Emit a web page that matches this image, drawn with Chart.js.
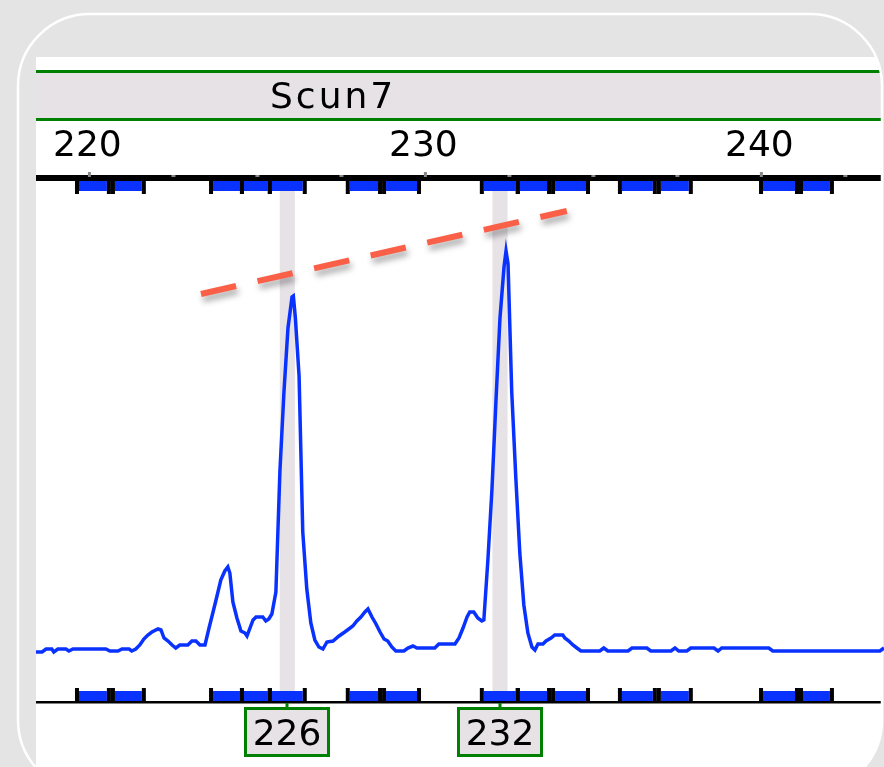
<!DOCTYPE html>
<html>
<head>
<meta charset="utf-8">
<script src="https://cdn.jsdelivr.net/npm/chart.js@4.4.1/dist/chart.umd.min.js"></script>
<style>
  html, body { margin: 0; padding: 0; background: #e4e4e4; overflow: hidden; }
  canvas { display: block; }
</style>
</head>
<body>
<canvas id="myChart" width="884" height="767"></canvas>
<script>
// Dados do gráfico
const markerName = 'Scun7';
const sizeTicks = [220, 230, 240];
const minorTicks = [222.5, 225, 227.5, 232.5, 235, 237.5, 242.5];

// bins (inicio / fim em pb)
const binStarts = [219.63, 220.70, 223.62, 224.54, 225.37, 227.69, 228.77, 231.68, 232.75, 233.80, 235.79, 236.95, 239.99, 241.18];
const binEnds   = [220.58, 221.62, 224.54, 225.37, 226.41, 228.65, 229.81, 232.75, 233.68, 234.84, 236.83, 237.90, 241.06, 242.10];

// alelos chamados
const alleleLabels = ['226', '232'];
const alleleSizes = [225.89, 232.22];

// traço (tamanho em pb, intensidade)
const traceSizes = [
  218.41, 218.59, 218.71, 218.88, 218.94, 219.06, 219.30, 219.39, 219.51, 220.49,
  220.61, 220.85, 220.97, 221.18, 221.26, 221.38, 221.50, 221.62, 221.74, 221.86,
  222.04, 222.13, 222.22, 222.34, 222.46, 222.57, 222.69, 222.93, 223.05, 223.17,
  223.29, 223.44, 223.56, 223.68, 223.79, 223.91, 224.03, 224.12, 224.18, 224.27,
  224.39, 224.51, 224.63, 224.69, 224.78, 224.87, 224.96, 225.16, 225.25, 225.34,
  225.43, 225.55, 225.67, 225.79, 225.91, 226.03, 226.07, 226.13, 226.24, 226.35,
  226.47, 226.59, 226.71, 226.83, 226.95, 227.07, 227.25, 227.43, 227.60, 227.72,
  227.84, 227.96, 228.08, 228.20, 228.29, 228.41, 228.53, 228.65, 228.77, 228.88,
  229.00, 229.12, 229.36, 229.48, 229.63, 229.75, 230.28, 230.40, 230.88, 231.00,
  231.12, 231.24, 231.32, 231.44, 231.56, 231.68, 231.74, 231.86, 231.98, 232.10,
  232.22, 232.34, 232.40, 232.46, 232.57, 232.69, 232.81, 232.93, 233.05, 233.17,
  233.26, 233.35, 233.50, 233.59, 233.74, 233.85, 234.09, 234.15, 234.27, 234.39,
  234.51, 234.63, 235.19, 235.31, 235.43, 236.03, 236.15, 236.59, 236.71, 237.31,
  237.43, 237.54, 237.78, 237.90, 238.59, 238.71, 238.82, 240.22, 240.34, 243.53,
  243.65
];
const traceRfu = [
  144, 144, 156, 156, 144, 156, 156, 148, 156, 156,
  148, 148, 156, 156, 148, 156, 172, 196, 212, 224,
  236, 232, 200, 188, 172, 160, 172, 172, 188, 188,
  172, 172, 240, 304, 364, 432, 468, 484, 460, 344,
  280, 228, 220, 208, 240, 272, 284, 284, 268, 276,
  296, 384, 868, 1184, 1440, 1564, 1568, 1480, 1248, 624,
  396, 260, 192, 164, 156, 184, 188, 208, 224, 236,
  248, 268, 284, 304, 316, 284, 256, 224, 196, 188,
  164, 148, 148, 160, 168, 160, 160, 176, 176, 200,
  240, 284, 304, 304, 280, 268, 272, 512, 792, 1148,
  1480, 1684, 1748, 1696, 1184, 844, 540, 332, 220, 164,
  152, 176, 176, 188, 200, 212, 212, 200, 188, 172,
  160, 148, 148, 160, 148, 148, 160, 160, 148, 148,
  160, 148, 148, 160, 160, 148, 160, 160, 148, 148,
  160
];

// linha tracejada (inclinação)
const slopeSizes = [223.32, 234.21];
const slopeRfu = [1576, 1908];

const traceData = traceSizes.map((s, i) => ({ x: s, y: traceRfu[i] }));
const slopeData = slopeSizes.map((s, i) => ({ x: s, y: slopeRfu[i] }));

function roundRect(c, x, y, w, h, r) {
  c.beginPath();
  c.moveTo(x + r, y);
  c.lineTo(x + w - r, y);
  c.arcTo(x + w, y, x + w, y + r, r);
  c.lineTo(x + w, y + h - r);
  c.arcTo(x + w, y + h, x + w - r, y + h, r);
  c.lineTo(x + r, y + h);
  c.arcTo(x, y + h, x, y + h - r, r);
  c.lineTo(x, y + r);
  c.arcTo(x, y, x + r, y, r);
  c.closePath();
}

function drawBins(c, xs, yBlue, hBlue, yMark, hMark) {
  for (let i = 0; i < binStarts.length; i++) {
    const a = xs.getPixelForValue(binStarts[i]);
    const b = xs.getPixelForValue(binEnds[i]);
    c.fillStyle = '#0a32ff';
    c.fillRect(a + 2, yBlue, b - a - 4, hBlue);
    c.fillStyle = '#000';
    c.fillRect(a - 2, yMark, 4, hMark);
    c.fillRect(b - 2, yMark, 4, hMark);
  }
}

// fundo, cabeçalho, eixos e bins
const decor = {
  id: 'decor',
  beforeDraw(chart) {
    const c = chart.ctx;
    const xs = chart.scales.x;
    const W = chart.width, H = chart.height;
    const left = chart.chartArea.left;
    c.save();
    c.fillStyle = '#e4e4e4';
    c.fillRect(0, 0, W, H);

    c.save();
    roundRect(c, 18, 14, 864, 778, 72);
    c.clip();
    c.fillStyle = '#fff';
    c.fillRect(left, 57, W - left, H - 57);

    c.fillStyle = '#008000';
    c.fillRect(left, 70, W - left, 3);
    c.fillRect(left, 118, W - left, 3);
    c.fillStyle = '#e6e2e6';
    c.fillRect(left, 73, W - left, 45);

    c.fillStyle = '#000';
    c.font = '36px "DejaVu Sans"';
    c.textBaseline = 'alphabetic';
    c.textAlign = 'left';
    c.letterSpacing = '3px';
    c.fillText(markerName, 270, 108);
    c.letterSpacing = '0px';

    c.textAlign = 'center';
    sizeTicks.forEach(t => c.fillText(String(t), xs.getPixelForValue(t) - 2, 156));

    c.fillStyle = '#000';
    c.fillRect(left, 175, W - left, 6);
    c.fillStyle = '#888';
    sizeTicks.forEach(t => c.fillRect(xs.getPixelForValue(t) - 1.5, 172, 3, 5));
    minorTicks.forEach(t => c.fillRect(xs.getPixelForValue(t) - 2, 175, 4, 2));

    // faixas dos alelos
    c.fillStyle = '#e6e2e6';
    alleleSizes.forEach(s => {
      const a = xs.getPixelForValue(s - 0.225);
      const b = xs.getPixelForValue(s + 0.225);
      c.fillRect(a, 191, b - a, 510);
    });

    drawBins(c, xs, 181, 10, 181, 13);
    drawBins(c, xs, 691, 10, 688, 13);
    c.fillStyle = '#000';
    c.fillRect(left, 701, W - left, 2.5);
    c.restore();

    c.strokeStyle = '#fff';
    c.lineWidth = 2.5;
    roundRect(c, 18, 14, 864, 778, 72);
    c.stroke();
    c.restore();
  },
  afterDraw(chart) {
    const c = chart.ctx;
    const xs = chart.scales.x;
    c.save();
    c.font = '36px "DejaVu Sans"';
    c.textAlign = 'center';
    c.textBaseline = 'alphabetic';
    alleleSizes.forEach((s, i) => {
      const px = Math.round(xs.getPixelForValue(s));
      c.fillStyle = '#008000';
      c.fillRect(px - 1.5, 703, 3, 5);
      c.fillStyle = '#e6e2e6';
      c.fillRect(px - 43, 707, 86, 50);
      c.strokeStyle = '#008000';
      c.lineWidth = 3;
      c.strokeRect(px - 41.5, 708.5, 83, 47);
      c.fillStyle = '#000';
      c.fillText(alleleLabels[i], px, 745);
    });
    c.restore();
  }
};

// sombra da linha vermelha
const shadow = {
  id: 'shadow',
  beforeDatasetDraw(chart, args) {
    if (args.index !== 1) return;
    const c = chart.ctx;
    c.save();
    c.shadowColor = 'rgba(0,0,0,0.35)';
    c.shadowBlur = 6;
    c.shadowOffsetX = 2;
    c.shadowOffsetY = 5;
  },
  afterDatasetDraw(chart, args) {
    if (args.index !== 1) return;
    chart.ctx.restore();
  }
};

const ctx = document.getElementById('myChart').getContext('2d');
const myChart = new Chart(ctx, {
  type: 'line',
  data: {
    datasets: [{
      label: markerName,
      data: traceData,
      borderColor: '#0a32ff',
      borderWidth: 3.5,
      pointRadius: 0,
      tension: 0,
      fill: false
    }, {
      label: 'slope',
      data: slopeData,
      borderColor: '#fa6048',
      borderWidth: 6,
      borderDash: [36, 22],
      borderCapStyle: 'butt',
      pointRadius: 0,
      tension: 0,
      fill: false
    }]
  },
  options: {
    responsive: false,
    animation: false,
    devicePixelRatio: 1,
    layout: { padding: { left: 36, right: 0, top: 194, bottom: 79 } },
    scales: {
      x: { type: 'linear', min: 218.41, max: 243.65, display: false },
      y: { min: 0, max: 1976, display: false }
    },
    plugins: {
      legend: { display: false },
      tooltip: { enabled: false }
    }
  },
  plugins: [decor, shadow]
});
</script>
</body>
</html>
